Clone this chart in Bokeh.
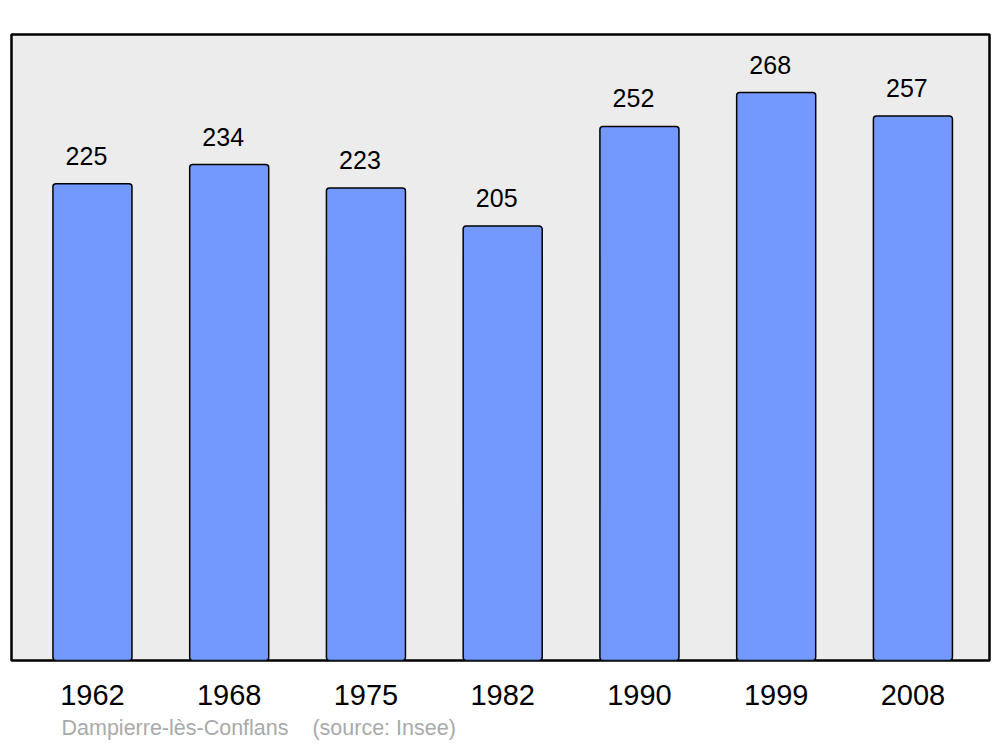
from bokeh.plotting import figure
from bokeh.models import ColumnDataSource, Range1d, Title
from bokeh.core.properties import value
from bokeh.embed import file_html
from bokeh.resources import INLINE

years = ["1962", "1968", "1975", "1982", "1990", "1999", "2008"]
population = [225, 234, 223, 205, 252, 268, 257]

xs = list(range(len(years)))
src = ColumnDataSource(dict(x=xs, y=population, label=[str(v) for v in population]))

p = figure(width=992, height=746, output_backend="svg", toolbar_location=None,
           x_range=Range1d(-0.592, 6.560), y_range=Range1d(0, 295.4),
           min_border_left=11, min_border_right=3, min_border_top=34, min_border_bottom=0)
p.background_fill_color = "#ececec"
p.border_fill_color = "white"
p.outline_line_color = "black"
p.outline_line_width = 2.5
p.grid.visible = False
p.yaxis.visible = False

p.vbar(x="x", top="y", bottom=0, width=0.578, source=src,
       fill_color="#7399ff", line_color="black", line_width=1.5, border_radius=3)

p.text(x="x", y="y", text="label", source=src, x_offset=-6, y_offset=-28,
       text_align="center", text_baseline="alphabetic",
       text_font=value("Liberation Sans"), text_font_size="25px", text_color="black")

ax = p.xaxis[0]
ax.ticker = xs
ax.major_label_overrides = {i: y for i, y in enumerate(years)}
ax.axis_line_color = None
ax.major_tick_line_color = None
ax.minor_tick_line_color = None
ax.major_label_text_font = "Liberation Sans"
ax.major_label_text_font_size = "29px"
ax.major_label_text_color = "black"
ax.major_label_standoff = 18

t = Title(text="Dampierre-lès-Conflans\u00a0\u00a0\u00a0\u00a0(source: Insee)",
          align="left", offset=50, text_font="Liberation Sans", text_font_size="21.5px",
          text_font_style="normal", text_color="#aaaaaa", standoff=13)
p.add_layout(t, "below")

open("out.html", "w").write(file_html(p, INLINE))
